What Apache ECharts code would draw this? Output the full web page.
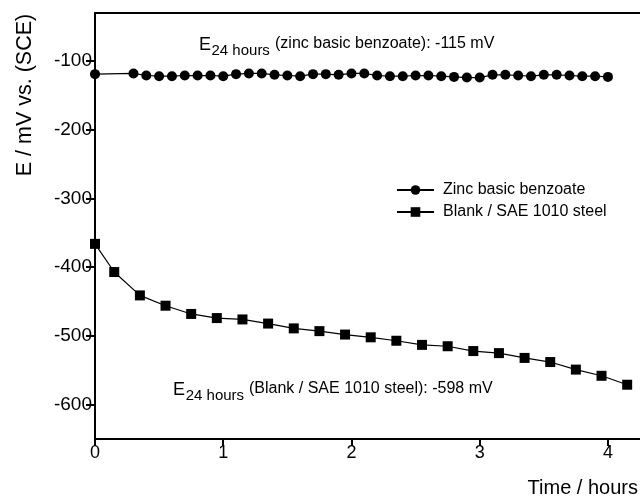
<!DOCTYPE html>
<html>
<head>
<meta charset="utf-8">
<script src="https://cdn.jsdelivr.net/npm/echarts@6/dist/echarts.min.js"></script>
<style>
  html, body { margin: 0; padding: 0; background: #fff; }
  #chart { width: 640px; height: 498px; }
</style>
</head>
<body>
<div id="chart"></div>
<script>
// series data
const zincTime = [0, 0.3, 0.4, 0.5, 0.6, 0.7, 0.8, 0.9, 1.0, 1.1, 1.2, 1.3, 1.4, 1.5, 1.6, 1.7, 1.8, 1.9, 2.0,
  2.1, 2.2, 2.3, 2.4, 2.5, 2.6, 2.7, 2.8, 2.9, 3.0, 3.1, 3.2, 3.3, 3.4, 3.5, 3.6, 3.7, 3.8, 3.9, 4.0];
const zincE = [-119, -118, -121, -122, -122, -121, -121, -121, -122, -119, -118, -118, -120, -121, -122, -119, -119, -120, -118,
  -118, -121, -122, -122, -121, -121, -122, -123, -124, -124, -120, -120, -121, -122, -120, -120, -121, -122, -122, -123];

const blankTime = [0, 0.15, 0.35, 0.55, 0.75, 0.95, 1.15, 1.35, 1.55, 1.75, 1.95, 2.15, 2.35, 2.55, 2.75, 2.95,
  3.15, 3.35, 3.55, 3.75, 3.95, 4.15];
const blankE = [-366, -407, -441, -456, -468, -474, -476, -482, -489, -493, -498, -502, -507, -513, -515, -522,
  -525, -532, -538, -549, -558, -571];

const xTicks = [0, 1, 2, 3, 4];
const yTicks = [-600, -500, -400, -300, -200, -100];

const seriesNames = ["Zinc basic benzoate", "Blank / SAE 1010 steel"];

const font = "'Liberation Sans', Arial, Helvetica, sans-serif";

function pairs(xs, ys) {
  return xs.map(function (x, i) { return [x, ys[i]]; });
}

var myChart = echarts.init(document.getElementById("chart"));

var option = {
  animation: false,
  backgroundColor: "#fff",
  textStyle: { fontFamily: font, color: "#000" },
  grid: { left: 95, top: 13, width: 546, bottom: 59 },
  legend: {
    orient: "vertical",
    left: 396,
    top: 182,
    padding: 0,
    itemGap: 6,
    itemWidth: 37,
    itemHeight: 12,
    textStyle: { fontSize: 16, color: "#000", fontFamily: font, padding: [0, 0, 0, 4] },
    data: seriesNames
  },
  xAxis: [
    {
      type: "value",
      min: 0,
      max: 4.25,
      splitLine: { show: false },
      axisLine: { show: true, onZero: false, lineStyle: { color: "#000", width: 2 } },
      axisTick: { show: true, length: 7, customValues: xTicks, lineStyle: { color: "#000", width: 2 } },
      axisLabel: { customValues: xTicks, fontSize: 18, color: "#000", margin: 5, fontFamily: font }
    },
    {
      // top frame line
      type: "value",
      position: "top",
      min: 0,
      max: 4.25,
      splitLine: { show: false },
      axisLine: { show: true, onZero: false, lineStyle: { color: "#000", width: 2 } },
      axisTick: { show: false },
      axisLabel: { show: false }
    }
  ],
  yAxis: {
    type: "value",
    min: -650,
    max: -30,
    splitLine: { show: false },
    axisLine: { show: true, onZero: false, lineStyle: { color: "#000", width: 2 } },
    axisTick: { show: true, length: 9, customValues: yTicks, lineStyle: { color: "#000", width: 2 } },
    axisLabel: { customValues: yTicks, fontSize: 19, color: "#000", margin: 3, fontFamily: font }
  },
  graphic: [
    {
      type: "text", rotation: Math.PI / 2, x: 25, y: 95,
      style: { text: "E / mV vs. (SCE)", font: "21.5px " + font, fill: "#000", align: "center", verticalAlign: "middle" }
    },
    {
      type: "text", x: 638, y: 488,
      style: { text: "Time / hours", font: "20px " + font, fill: "#000", align: "right", verticalAlign: "middle" }
    },
    // E 24 hours annotations
    { type: "text", x: 199, y: 44.8, style: { text: "E", font: "18px " + font, fill: "#000", verticalAlign: "middle" } },
    { type: "text", x: 211.5, y: 50.8, style: { text: "24 hours", font: "15px " + font, fill: "#000", verticalAlign: "middle" } },
    { type: "text", x: 275, y: 43.5, style: { text: "(zinc basic benzoate): -115 mV", font: "16px " + font, fill: "#000", verticalAlign: "middle" } },
    { type: "text", x: 173, y: 389.8, style: { text: "E", font: "18px " + font, fill: "#000", verticalAlign: "middle" } },
    { type: "text", x: 185.7, y: 395.8, style: { text: "24 hours", font: "15px " + font, fill: "#000", verticalAlign: "middle" } },
    { type: "text", x: 249, y: 388.5, style: { text: "(Blank / SAE 1010 steel): -598 mV", font: "16px " + font, fill: "#000", verticalAlign: "middle" } }
  ],
  series: [
    {
      name: seriesNames[0],
      type: "line",
      data: pairs(zincTime, zincE),
      symbol: "circle",
      symbolSize: 10,
      showAllSymbol: true,
      lineStyle: { color: "#000", width: 1.2 },
      itemStyle: { color: "#000" }
    },
    {
      name: seriesNames[1],
      type: "line",
      data: pairs(blankTime, blankE),
      symbol: "rect",
      symbolSize: 10,
      showAllSymbol: true,
      lineStyle: { color: "#000", width: 1.2 },
      itemStyle: { color: "#000" }
    }
  ]
};

myChart.setOption(option);
</script>
</body>
</html>
